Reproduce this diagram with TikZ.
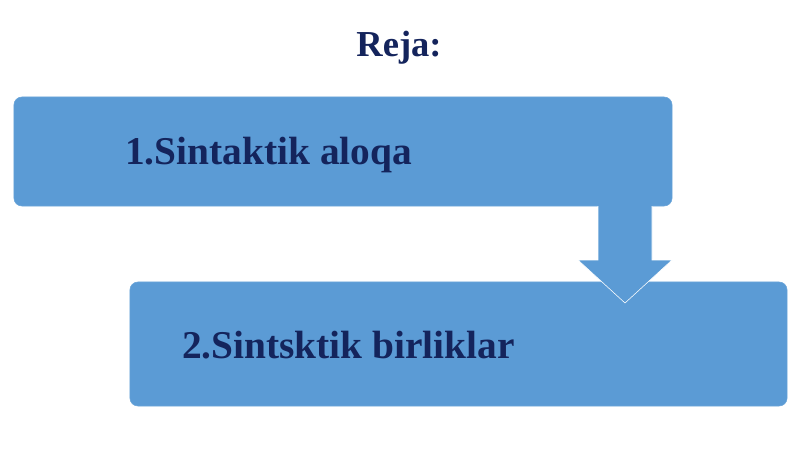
\documentclass[tikz,border=0pt]{standalone}
\usepackage{fontspec}
\setmainfont{Liberation Serif}
\usetikzlibrary{positioning}
\definecolor{boxblue}{RGB}{91,155,213}
\definecolor{navy}{RGB}{20,36,92}

\begin{document}
\begin{tikzpicture}[x=0.025cm,y=-0.025cm,
    planbox/.style={fill=boxblue,draw=boxblue!90!white,rounded corners=0.2cm,inner sep=0pt},
    plantext/.style={text=navy,font=\bfseries\fontsize{28}{32}\selectfont,anchor=west,inner sep=0pt}]
  \useasboundingbox (0,0) rectangle (800,449);
  % title
  \node[text=navy,font=\bfseries\fontsize{26}{30}\selectfont] (title) at (399,48) {Reja:};
  % the two boxes
  \node[planbox,minimum width=16.45cm,minimum height=2.725cm] (box1) at (343,151.5) {};
  \node[planbox,minimum width=16.425cm,minimum height=3.1cm] (box2) at (458.5,344) {};
  \node[plantext] (item1) at (125,155) {1.Sintaktik aloqa};
  \node[plantext] (item2) at (182,345) {2.Sintsktik birliklar};
  % down arrow from box1 to box2
  \coordinate (tip) at (625,303);
  \fill[boxblue] (598,205) -- (598,260) -- (578,260) -- (tip)
    -- (672,260) -- (652,260) -- (652,205) -- cycle;
  \draw[white,line width=0.4pt,line join=miter]
    (598,206) -- (598,260) -- (578,260) -- (tip)
    -- (672,260) -- (652,260) -- (652,206);
\end{tikzpicture}
\end{document}
